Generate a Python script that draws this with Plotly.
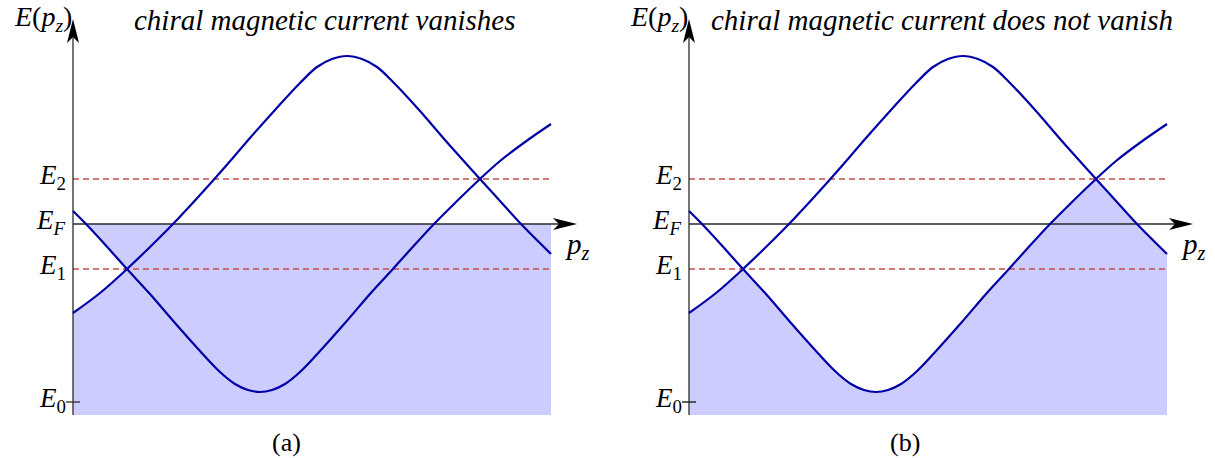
import plotly.graph_objects as go

# two bands, p_z and E in the same arbitrary units
# (E = 0 at the bottom of the shaded area)
pz_a = [0, 27, 54, 77, 100, 127, 152, 177, 202, 227, 244, 259, 274, 289, 304, 321, 347, 372, 407, 427, 448, 478]
en_a = [102, 122, 146, 168, 191, 220, 248, 277, 305, 332, 348, 356, 359, 356, 348, 332, 304, 275, 236, 214, 191, 161]
pz_b = [0, 13, 27, 54, 77, 102, 127, 147, 162, 175, 187, 199, 212, 227, 247, 272, 297, 319, 337, 361, 382, 407, 427, 452, 478]
en_b = [204, 191, 176, 146, 121, 92, 64, 43, 31, 25, 23, 25, 31, 43, 64, 92, 121, 145, 165, 191, 212, 236, 254, 273, 291]

# energy levels
E0, E1, EF, E2 = 13, 146, 191, 236
level_subs = ["0", "1", "<i>F</i>", "2"]
level_vals = [E0, E1, EF, E2]

titles = ["chiral magnetic current vanishes", "chiral magnetic current does not vanish"]
tags = ["(a)", "(b)"]

W, H = 1215, 458
P_TIP = 504   # end of the p_z arrow
E_TIP = 396   # end of the E arrow

BLUE = "#0000a8"
FILL = "#ccccff"
RED = "#c44c4c"
AX = "#2a2a2a"
FONT = "'Liberation Serif', 'Times New Roman', Times, serif"

# crossing points of the two bands (E1 and E2) and where band b cuts E_F
i1a, i2a = en_a.index(E1), en_a.index(E2)
i1b, i2b = en_b.index(E1), en_b.index(E2)
ifb = en_b.index(EF)

fig = go.Figure()

for k in range(2):
    xa = "x" if k == 0 else "x2"
    ya = "y" if k == 0 else "y2"

    if k == 0:
        # everything below E_F is filled, except the wedge left of the first crossing
        fx = pz_a[:i1a + 1] + pz_b[ifb:i1b + 1][::-1] + [pz_a[-1], pz_a[-1], 0]
        fy = en_a[:i1a + 1] + en_b[ifb:i1b + 1][::-1] + [EF, 0, 0]
        fig.add_trace(go.Scatter(x=fx, y=fy, fill="toself", fillcolor=FILL, mode="lines",
                                 line=dict(width=0), xaxis=xa, yaxis=ya, hoverinfo="skip"))
    else:
        # only the states below the lower band are filled
        segs = [(pz_a[:i1a + 1], en_a[:i1a + 1]),
                (pz_b[i1b:i2b + 1], en_b[i1b:i2b + 1]),
                (pz_a[i2a:], en_a[i2a:])]
        for sx, sy in segs:
            fig.add_trace(go.Scatter(x=sx, y=sy, fill="tozeroy", fillcolor=FILL, mode="lines",
                                     line=dict(width=0, shape="spline"), xaxis=xa, yaxis=ya,
                                     hoverinfo="skip"))

    # dashed levels E1, E2
    for lv in (E1, E2):
        fig.add_trace(go.Scatter(x=[0, pz_a[-1]], y=[lv, lv], mode="lines",
                                 line=dict(color=RED, width=1.3, dash="6px,4px"),
                                 xaxis=xa, yaxis=ya, hoverinfo="skip"))

    # axes
    fig.add_trace(go.Scatter(x=[0, P_TIP - 12], y=[EF, EF], mode="lines",
                             line=dict(color=AX, width=1.3), xaxis=xa, yaxis=ya, hoverinfo="skip"))
    fig.add_trace(go.Scatter(x=[0, 0], y=[0, E_TIP - 12], mode="lines",
                             line=dict(color=AX, width=1.3), xaxis=xa, yaxis=ya, hoverinfo="skip"))
    fig.add_trace(go.Scatter(x=[-7, 7], y=[E0, E0], mode="lines",
                             line=dict(color=AX, width=1.3), xaxis=xa, yaxis=ya, hoverinfo="skip"))

    # the two bands
    for px_, en_ in ((pz_a, en_a), (pz_b, en_b)):
        fig.add_trace(go.Scatter(x=px_, y=en_, mode="lines",
                                 line=dict(color=BLUE, width=2.2, shape="spline"),
                                 xaxis=xa, yaxis=ya, hoverinfo="skip"))

    # arrow heads
    fig.add_shape(type="path", xref=xa, yref=ya, xsizemode="pixel", ysizemode="pixel",
                  xanchor=0, yanchor=E_TIP, path="M0,0 L-6,-24 L0,-18 L6,-24 Z",
                  fillcolor="black", line=dict(width=0))
    fig.add_shape(type="path", xref=xa, yref=ya, xsizemode="pixel", ysizemode="pixel",
                  xanchor=P_TIP, yanchor=EF, path="M0,0 L-24,6 L-18,0 L-24,-6 Z",
                  fillcolor="black", line=dict(width=0))

    # labels
    for sub, lv in zip(level_subs, level_vals):
        fig.add_annotation(xref=xa, yref=ya, x=0, y=lv, text="<i>E</i><sub>" + sub + "</sub>",
                           showarrow=False, xanchor="right", yanchor="middle", xshift=-5,
                           yshift=2, font=dict(family=FONT, size=27, color="black"))
    fig.add_annotation(xref=xa, yref=ya, x=0, y=E_TIP, text="<i>E</i>(<i>p<sub>z</sub></i>)",
                       showarrow=False, xanchor="right", yanchor="middle", xshift=1, yshift=1,
                       font=dict(family=FONT, size=28, color="black"))
    fig.add_annotation(xref=xa, yref=ya, x=P_TIP, y=EF, text="<i>p<sub>z</sub></i>",
                       showarrow=False, xanchor="center", yanchor="middle", yshift=-22,
                       font=dict(family=FONT, size=29, color="black"))

title_cx = [325, 942]
tag_cx = [286, 905]
for k in range(2):
    fig.add_annotation(xref="paper", yref="paper", x=title_cx[k] / W, y=1 - 20 / H,
                       text="<i>" + titles[k] + "</i>", showarrow=False,
                       xanchor="center", yanchor="middle",
                       font=dict(family=FONT, size=29, color="black"))
    fig.add_annotation(xref="paper", yref="paper", x=tag_cx[k] / W, y=1 - 442 / H,
                       text=tags[k], showarrow=False, xanchor="center", yanchor="middle",
                       font=dict(family=FONT, size=26, color="black"))

ax_common = dict(visible=False, showgrid=False, zeroline=False, fixedrange=True)
fig.update_layout(
    width=W, height=H,
    margin=dict(l=0, r=0, t=0, b=0),
    paper_bgcolor="white", plot_bgcolor="white",
    showlegend=False,
    xaxis=dict(domain=[0, 0.5], range=[-73, 534.5], **ax_common),
    xaxis2=dict(domain=[0.5, 1], range=[-81.5, 526], **ax_common),
    yaxis=dict(domain=[0, 1], range=[-43, 415], **ax_common),
    yaxis2=dict(domain=[0, 1], range=[-43, 415], anchor="x2", **ax_common),
)

# the page body has a default 8px margin, drop it so the figure fills the window
fig.write_html("out.html", config={"displayModeBar": False},
               post_script="document.body.style.margin='0';")
